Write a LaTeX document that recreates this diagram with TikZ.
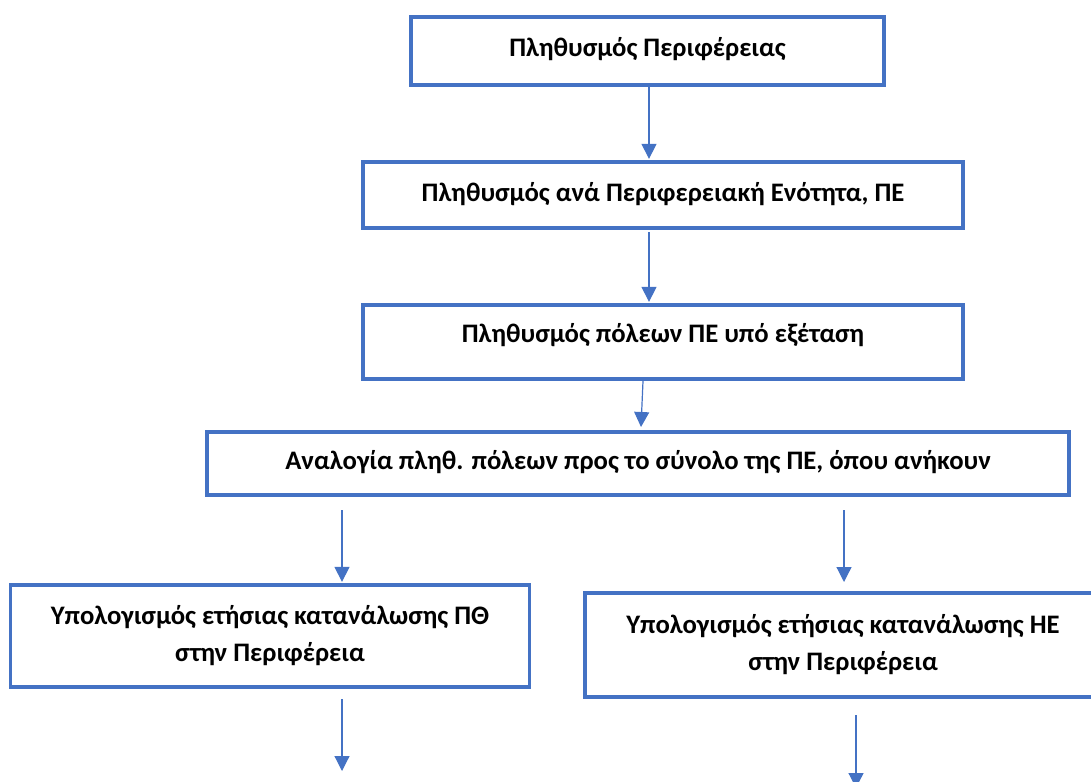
\documentclass[tikz,border=0pt]{standalone}
\usepackage{fontspec}
\setmainfont{Carlito}
\usetikzlibrary{arrows.meta}

\definecolor{wordblue}{HTML}{4472C4}

\tikzset{
    stage/.style={draw=wordblue, line width=3.3pt, fill=white, align=center,
        font=\bfseries\fontsize{26.7}{37}\selectfont, inner sep=0pt},
    oneline/.style={text height=18pt, text depth=6pt},
    flow/.style={draw=wordblue, line width=1.2pt,
        -{Triangle[length=15pt,width=15pt]}}
}

\begin{document}
\begin{tikzpicture}[x=1pt, y=-1pt]
        \useasboundingbox (0,0) rectangle (1091,781);

        % Draw the chain of boxes at the top
        \node[stage, oneline, minimum width=473, minimum height=68] (region) at (647.5,51) {Πληθυσμός Περιφέρειας};
        \node[stage, oneline, minimum width=600, minimum height=66] (units) at (663,195) {Πληθυσμός ανά Περιφερειακή Ενότητα, ΠΕ};
        \node[stage, oneline, text depth=18pt, minimum width=600, minimum height=74] (cities) at (663,342) {Πληθυσμός πόλεων ΠΕ υπό εξέταση};
        \node[stage, oneline, minimum width=862, minimum height=63] (share) at (638,463.5) {Αναλογία πληθ. πόλεων προς το σύνολο της ΠΕ, όπου ανήκουν};

        % Draw the two boxes of the consumption
        \node[stage, minimum width=519, minimum height=102] (gas) at (270,636) {Υπολογισμός ετήσιας κατανάλωσης ΠΘ\\ στην Περιφέρεια};
        \node[stage, minimum width=516, minimum height=104] (power) at (843,645) {Υπολογισμός ετήσιας κατανάλωσης ΗΕ\\ στην Περιφέρεια};

        % Points where the arrows begin and end
        \coordinate (a2) at (649,232);
        \coordinate (a3) at (643,381);
        \coordinate (a3e) at (641,427);
        \coordinate (a4) at (342,510);
        \coordinate (a5) at (844,510);
        \coordinate (a5e) at (844,582);
        \coordinate (a6) at (342,699);
        \coordinate (a6e) at (342,771);
        \coordinate (a7) at (856,715);
        \coordinate (a7e) at (856,788);

        % Draw the arrows
        \draw[flow, shorten >=1.5pt] (region.south -| a2) -- (a2 |- units.north);
        \draw[flow, shorten >=1.5pt] (a2) -- (a2 |- cities.north);
        \draw[flow] (a3) -- (a3e);
        \draw[flow, shorten >=1.5pt] (a4) -- (a4 |- gas.north);
        \draw[flow] (a5) -- (a5e);
        \draw[flow] (a6) -- (a6e);
        \draw[flow] (a7) -- (a7e);
    \end{tikzpicture}
\end{document}
